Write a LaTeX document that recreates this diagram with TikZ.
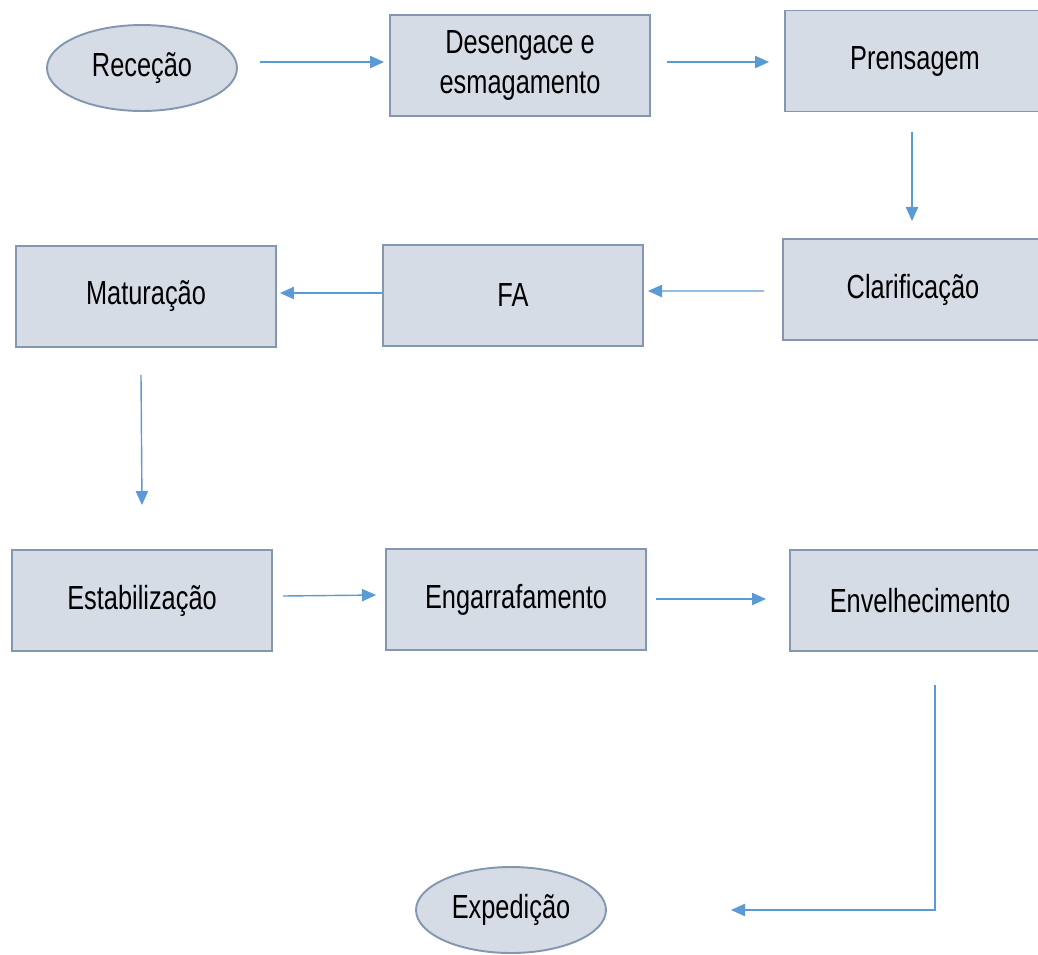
\documentclass[tikz,border=0pt]{standalone}
\usepackage{fontspec}
\setmainfont[FakeStretch=0.76]{Liberation Sans}
\usepackage{tikz}
\usetikzlibrary{arrows.meta,positioning,calc,shapes.geometric}

\definecolor{boxfill}{HTML}{D6DCE5}
\definecolor{boxline}{HTML}{8497B0}
\definecolor{arrowblue}{HTML}{5B9BD5}

\tikzset{
  stage/.style={draw=boxline,fill=boxfill,line width=1.1pt,minimum width=5.2cm,minimum height=2.02cm,
    font=\fontsize{19}{23}\selectfont,align=center,inner sep=0pt},
  oval/.style={ellipse,draw=boxline,fill=boxfill,line width=1.1pt,minimum width=3.8cm,minimum height=1.72cm,
    font=\fontsize{19}{23}\selectfont,inner sep=0pt},
  flow/.style={draw=arrowblue,line width=0.8pt,-{Triangle[length=8pt,width=7pt]}}
}

\begin{document}
\begin{tikzpicture}[x=0.02cm,y=-0.02cm]
\useasboundingbox (0,0) rectangle (1038,954);
% top row
\node[oval] (rec) at (142,68) {Receção};
\node[stage] (des) at (520,65.5) {Desengace e\\esmagamento};
\node[stage] (pre) at (915,61) {Prensagem};
% second row
\node[stage] (cla) at (913,289.5) {Clarificação};
\node[stage] (fa) at (513,295.5) {FA};
\node[stage] (mat) at (146,296.5) {Maturação};
% third row
\node[stage] (est) at (142,600.5) {Estabilização};
\node[stage] (eng) at (516,599.5) {Engarrafamento};
\node[stage] (env) at (920,600.5) {Envelhecimento};
% end
\node[oval] (exp) at (511,910) {Expedição};
% arrows, they stop short of the boxes
\draw[flow] ($(rec.east)+(22,-6)$) -- ($(des.west)+(-5,-3.5)$);
\draw[flow] ($(des.east)+(16,-3.5)$) -- ($(pre.west)+(-15,1)$);
\draw[flow] ($(pre.south)+(-3,20)$) -- ($(cla.north)+(-1,-17)$);
\draw[flow] ($(cla.west)+(-18,1.5)$) -- ($(fa.east)+(4,-4.5)$);
\draw[flow] ($(fa.west)+(0,-2.5)$) -- ($(mat.east)+(3,-3.5)$);
\draw[flow] ($(mat.south)+(-5,27)$) -- ($(est.north)+(0,-44)$);
\draw[flow] ($(est.east)+(10,-4.5)$) -- ($(eng.west)+(-9,-4.5)$);
\draw[flow] ($(eng.east)+(9,-0.5)$) -- ($(env.west)+(-23,-1.5)$);
\draw[flow] ($(env.south)+(15,33)$) |- ($(exp.east)+(124,0)$);
\end{tikzpicture}
\end{document}
